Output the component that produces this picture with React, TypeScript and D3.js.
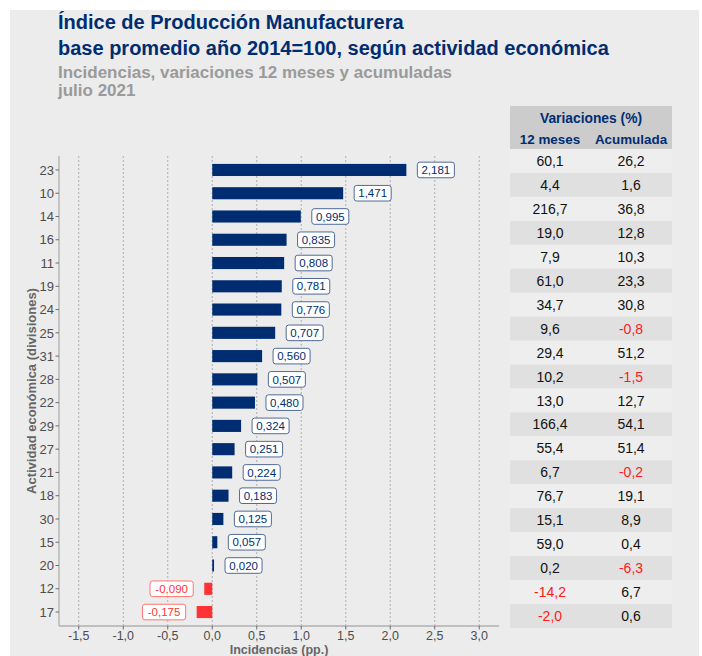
import React from "react";
import * as d3 from "d3";

const categories = ["23","10","14","16","11","19","24","25","31","28","22","29","27","21","18","30","15","20","12","17"];
const incidencias = [2.181,1.471,0.995,0.835,0.808,0.781,0.776,0.707,0.560,0.507,0.480,0.324,0.251,0.224,0.183,0.125,0.057,0.020,-0.090,-0.175];
const var12 = [60.1,4.4,216.7,19.0,7.9,61.0,34.7,9.6,29.4,10.2,13.0,166.4,55.4,6.7,76.7,15.1,59.0,0.2,-14.2,-2.0];
const acum = [26.2,1.6,36.8,12.8,10.3,23.3,30.8,-0.8,51.2,-1.5,12.7,54.1,51.4,-0.2,19.1,8.9,0.4,-6.3,6.7,0.6];
const xTicks = [-1.5,-1.0,-0.5,0.0,0.5,1.0,1.5,2.0,2.5,3.0];

const NAVY = "#002D72";
const RED = "#FF3333";
const FONT = "'Liberation Sans', Arial, sans-serif";

const fmt = (v: number, d: number) => v.toFixed(d).replace(".", ",");

export default function App() {
  const W = 702, H = 656;
  const plotL = 59, plotR = 499, plotT = 156, plotB = 626;
  const x = d3.scaleLinear().domain([-1.722, 3.222]).range([plotL, plotR]);
  const n = categories.length;
  const unit = (plotB - plotT) / (n - 1 + 1.2);
  const y = (i: number) => plotT + (0.6 + i) * unit;
  const barH = unit * 0.52;

  const tblT = 149, tblB = 628;
  const rowH = (tblB - tblT) / n;
  const col1 = 550, col2 = 631;

  return (
    <div style={{ position: "absolute", left: 0, top: 0 }}>
      <svg width={W} height={H} style={{ display: "block", fontFamily: FONT }}>
        <rect x={0} y={0} width={W} height={H} fill="#ffffff" />
        <rect x={10} y={10} width={689} height={H} fill="#ececec" />
        {/* titles */}
        <text x={58} y={29} fontSize={20} fontWeight="bold" fill={NAVY}>Índice de Producción Manufacturera</text>
        <text x={58} y={55} fontSize={20} fontWeight="bold" fill={NAVY}>base promedio año 2014=100, según actividad económica</text>
        <text x={58} y={78} fontSize={17} fontWeight="bold" fill="#9a9a9a">Incidencias, variaciones 12 meses y acumuladas</text>
        <text x={58} y={96} fontSize={17} fontWeight="bold" fill="#9a9a9a">julio 2021</text>

        {/* grid */}
        {xTicks.map((t) => (
          <line key={"g" + t} x1={x(t)} x2={x(t)} y1={plotT} y2={plotB} stroke="#a0a0a0" strokeWidth={0.8} strokeDasharray="2,2" />
        ))}

        {/* bars */}
        {incidencias.map((v, i) => (
          <rect key={"b" + i} x={Math.min(x(0), x(v))} y={y(i) - barH / 2} width={Math.abs(x(v) - x(0))} height={barH} fill={v >= 0 ? NAVY : RED} />
        ))}

        {/* labels */}
        {incidencias.map((v, i) => {
          const txt = fmt(v, 3);
          const w = txt.length * 6.2 + 6;
          const off = 11;
          const bx = v >= 0 ? x(v) + off : x(v) - off - w;
          const col = v >= 0 ? NAVY : RED;
          return (
            <g key={"l" + i}>
              <rect x={bx} y={y(i) - 7.8} width={w} height={15.6} rx={2.5} fill="#ffffff" stroke={v >= 0 ? "#3d5a8f" : "#ff6666"} strokeWidth={0.9} />
              <text x={bx + w / 2} y={y(i)} dy="0.36em" textAnchor="middle" fontSize={11.5} fill={col}>{txt}</text>
            </g>
          );
        })}

        {/* axes */}
        <line x1={plotL} x2={plotL} y1={plotT} y2={plotB} stroke="#b0b0b0" strokeWidth={1.3} />
        <line x1={plotL} x2={plotR} y1={plotB} y2={plotB} stroke="#b0b0b0" strokeWidth={1.3} />
        {categories.map((c, i) => (
          <g key={"yt" + i}>
            <line x1={plotL - 3.5} x2={plotL} y1={y(i)} y2={y(i)} stroke="#4d4d4d" strokeWidth={0.8} />
            <text x={plotL - 5} y={y(i)} dy="0.36em" textAnchor="end" fontSize={13} fill="#4d4d4d">{c}</text>
          </g>
        ))}
        {xTicks.map((t) => (
          <g key={"xt" + t}>
            <line x1={x(t)} x2={x(t)} y1={plotB} y2={plotB + 3.5} stroke="#4d4d4d" strokeWidth={0.8} />
            <text x={x(t)} y={plotB + 14} textAnchor="middle" fontSize={12.5} fill="#4d4d4d">{fmt(t, 1)}</text>
          </g>
        ))}
        <text x={(plotL + plotR) / 2} y={654} textAnchor="middle" fontSize={12.5} fontWeight="bold" fill="#666666">Incidencias (pp.)</text>
        <text transform={`translate(36,${(plotT + plotB) / 2}) rotate(-90)`} textAnchor="middle" fontSize={13} fontWeight="bold" fill="#666666">Actividad económica (divisiones)</text>

        {/* table */}
        <rect x={510} y={106} width={162} height={tblT - 106} fill="#cccccc" />
        <text x={591} y={123} textAnchor="middle" fontSize={13.8} fontWeight="bold" fill={NAVY}>Variaciones (%)</text>
        <text x={col1} y={144} textAnchor="middle" fontSize={13.4} fontWeight="bold" fill={NAVY}>12 meses</text>
        <text x={col2} y={144} textAnchor="middle" fontSize={13.4} fontWeight="bold" fill={NAVY}>Acumulada</text>
        {categories.map((c, i) => (
          <g key={"r" + i}>
            <rect x={510} y={tblT + i * rowH} width={162} height={rowH} fill={i % 2 === 1 ? "#e0e0e0" : "#eeeeee"} />
            <text x={col1} y={tblT + (i + 0.5) * rowH} dy="0.36em" textAnchor="middle" fontSize={14} fill={var12[i] < 0 ? "#ff1a1a" : "#111111"}>{fmt(var12[i], 1)}</text>
            <text x={col2} y={tblT + (i + 0.5) * rowH} dy="0.36em" textAnchor="middle" fontSize={14} fill={acum[i] < 0 ? "#ff1a1a" : "#111111"}>{fmt(acum[i], 1)}</text>
          </g>
        ))}
      </svg>
    </div>
  );
}
